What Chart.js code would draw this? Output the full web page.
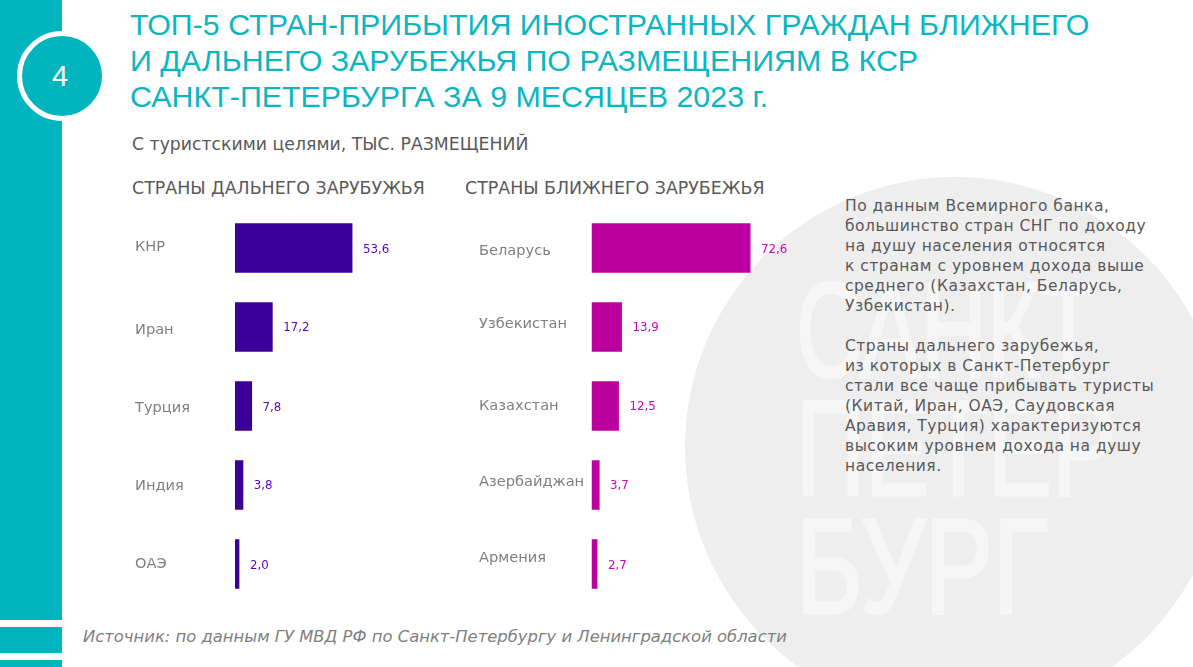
<!DOCTYPE html>
<html lang="ru">
<head>
<meta charset="utf-8">
<title>ТОП-5 стран-прибытия</title>
<script src="https://cdn.jsdelivr.net/npm/chart.js@4"></script>
<style>
  html, body { margin: 0; padding: 0; background: #fff; }
  #page { position: relative; width: 1193px; height: 667px; overflow: hidden; font-family: "DejaVu Sans", sans-serif; }
  #page > * { position: absolute; }
  .teal { background: #00b5bd; left: 0; width: 62px; }
  #blob { left: 685px; top: 177px; width: 540px; height: 540px; border-radius: 50%; background: #eeeeee; }
  #mark { left: 0; top: 0; }
  #mark text { stroke: #f6f6f6; stroke-width: 3px; stroke-linejoin: round; }
  #ring { left: 17px; top: 31px; width: 80px; height: 80px; border: 5px solid #fff; border-radius: 50%; background: #00b5bd; color: #fff;
    font: 29px/80px "Liberation Sans", sans-serif; text-align: center; text-indent: -4px; }
  #title { left: 130px; top: 6px; margin: 0; color: #0cb6c1; font: 400 30.4px/36px "Liberation Sans", sans-serif; white-space: nowrap; }
  #subtitle { left: 132px; top: 133px; color: #595959; font-size: 17.3px; line-height: 22px; white-space: nowrap; }
  .col { top: 177px; color: #595959; font-size: 17.4px; line-height: 22px; white-space: nowrap; }
  #note { left: 845px; top: 196px; color: #595959; font-size: 15.5px; line-height: 20px; letter-spacing: 0.5px; white-space: nowrap; }
  #source { left: 83px; top: 627px; color: #7f7f7f; font-size: 16.4px; line-height: 20px; font-style: italic; white-space: nowrap; }
  canvas { position: absolute; top: 208px; }
</style>
</head>
<body>
<div id="page">
  <div class="teal" style="top:0;height:620px"></div>
  <div class="teal" style="top:627px;height:26px"></div>
  <div class="teal" style="top:660px;height:7px"></div>
  <div id="blob"></div>
  <svg id="mark" width="1193" height="667" fill="#f6f6f6" font-family="Liberation Sans" font-size="135">
    <text x="796" y="377" textLength="300" lengthAdjust="spacingAndGlyphs">САНКТ</text>
    <text x="796" y="495" textLength="320" lengthAdjust="spacingAndGlyphs">ПЕТЕР</text>
    <text x="796" y="613" textLength="252" lengthAdjust="spacingAndGlyphs">БУРГ</text>
  </svg>
  <div id="ring">4</div>
  <h1 id="title">ТОП-5 СТРАН-ПРИБЫТИЯ ИНОСТРАННЫХ ГРАЖДАН БЛИЖНЕГО<br>И ДАЛЬНЕГО ЗАРУБЕЖЬЯ ПО РАЗМЕЩЕНИЯМ В КСР<br>САНКТ-ПЕТЕРБУРГА ЗА 9 МЕСЯЦЕВ 2023 г.</h1>
  <div id="subtitle">С туристскими целями, ТЫС. РАЗМЕЩЕНИЙ</div>
  <div class="col" style="left:132px">СТРАНЫ ДАЛЬНЕГО ЗАРУБУЖЬЯ</div>
  <div class="col" style="left:465px">СТРАНЫ БЛИЖНЕГО ЗАРУБЕЖЬЯ</div>
  <canvas id="farChart" width="330" height="396" style="left:130px"></canvas>
  <canvas id="nearChart" width="330" height="396" style="left:470px"></canvas>
  <div id="note">По данным Всемирного банка,<br>большинство стран СНГ по доходу<br>на душу населения относятся<br>к странам с уровнем дохода выше<br>среднего (Казахстан, Беларусь,<br>Узбекистан).<br><br>Страны дальнего зарубежья,<br>из которых в Санкт-Петербург<br>стали все чаще прибывать туристы<br>(Китай, Иран, ОАЭ, Саудовская<br>Аравия, Турция) характеризуются<br>высоким уровнем дохода на душу<br>населения.</div>
  <div id="source">Источник: по данным ГУ МВД РФ по Санкт-Петербургу и Ленинградской области</div>
</div>
<script>
const farCountries = ['КНР', 'Иран', 'Турция', 'Индия', 'ОАЭ'];
const farValues = [53.6, 17.2, 7.8, 3.8, 2.0];
const nearCountries = ['Беларусь', 'Узбекистан', 'Казахстан', 'Азербайджан', 'Армения'];
const nearValues = [72.6, 13.9, 12.5, 3.7, 2.7];

const FONT = '"DejaVu Sans", sans-serif';

// the slide's labels don't sit exactly on the bar centres
const barLabels = {
  id: 'barLabels',
  afterDatasetsDraw(chart, args, opts) {
    const { ctx, scales: { y } } = chart;
    const bars = chart.getDatasetMeta(0).data;
    ctx.save();
    ctx.textBaseline = 'middle';
    bars.forEach((bar, i) => {
      ctx.font = `14.6px ${FONT}`;
      ctx.fillStyle = '#7f7f7f';
      ctx.fillText(chart.data.labels[i], opts.labelX, y.getPixelForTick(i) + opts.labelShift[i]);
      ctx.font = `11.8px ${FONT}`;
      ctx.fillStyle = opts.valueColor;
      const text = String(chart.data.datasets[0].data[i].toFixed(1)).replace('.', ',');
      ctx.fillText(text, bar.x + 10.5, bar.y + opts.valueShift[i]);
    });
    ctx.restore();
  },
};

function createBars(id, labels, values, { barColor, paddingLeft, max, ...labelOpts }) {
  return new Chart(document.getElementById(id), {
    type: 'bar',
    data: {
      labels,
      datasets: [{
        data: values,
        backgroundColor: barColor,
        categoryPercentage: 1,
        barPercentage: 0.627,
      }],
    },
    options: {
      indexAxis: 'y',
      responsive: false,
      animation: false,
      layout: { padding: { left: paddingLeft, top: 0.5, bottom: 0.5 } },
      scales: {
        x: { display: false, min: 0, max },
        y: { display: false },
      },
      plugins: {
        legend: { display: false },
        tooltip: { enabled: false },
        barLabels: labelOpts,
      },
    },
    plugins: [barLabels],
  });
}

createBars('farChart', farCountries, farValues, {
  barColor: '#3a0097',
  valueColor: '#5a00c8',
  paddingLeft: 105,
  max: 102.7,
  labelX: 5,
  labelShift: [-0.5, 3.5, 2.5, 1.5, 0],
  valueShift: [2, 1, 2, 1, 1.5],
});

createBars('nearChart', nearCountries, nearValues, {
  barColor: '#bc009f',
  valueColor: '#d000c0',
  paddingLeft: 121.5,
  max: 95.2,
  labelX: 9,
  labelShift: [3.5, -2.5, 0.5, -2.5, -6],
  valueShift: [2, 1, 1, 1, 1.5],
});
</script>
</body>
</html>
